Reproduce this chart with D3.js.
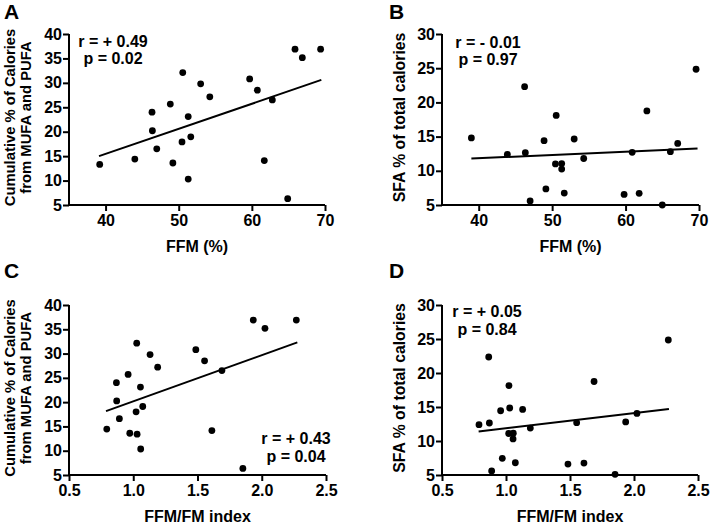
<!DOCTYPE html>
<html><head><meta charset="utf-8">
<script src="https://cdn.jsdelivr.net/npm/d3@7"></script>
<style>
html,body{margin:0;padding:0;background:#fff;}
svg text{font-family:"Liberation Sans",Arial,sans-serif;font-weight:bold;fill:#000;}
</style></head>
<body><svg id="c" width="711" height="524"></svg>
<script>
// ---------- DATA ----------
const ffmA   = [39.2,44.0,46.35,46.4,47.0,48.85,49.2,50.55,50.45,51.3,51.3,51.65,53.0,54.25,59.7,60.75,61.7,62.8,64.9,65.9,66.9,69.4];
const mufaA  = [13.3,14.4,24.0,20.2,16.5,25.65,13.6,32.1,17.9,23.1,10.3,18.95,29.8,27.15,30.8,28.5,14.1,26.5,6.3,36.9,35.15,36.9];
const ffmB   = [39.0,43.9,46.25,46.35,47.0,48.9,49.15,50.55,50.45,51.3,51.3,51.65,53.0,54.3,59.8,60.9,61.85,62.9,65.0,66.1,67.1,69.6];
const sfaB   = [14.8,12.4,22.3,12.65,5.6,14.4,7.35,18.1,11.0,11.05,10.25,6.75,14.65,11.8,6.55,12.7,6.7,18.75,5.0,12.8,14.0,24.85];
const idxC   = [0.794,0.869,0.871,0.892,0.96,0.973,1.027,1.022,1.03,1.056,1.058,1.074,1.131,1.19,1.487,1.555,1.612,1.69,1.853,1.934,2.025,2.269];
const mufaC  = [14.45,24.0,20.25,16.6,25.7,13.6,32.15,18.0,13.4,23.1,10.35,19.1,29.8,27.2,30.8,28.5,14.15,26.5,6.35,36.9,35.2,36.9];
const idxD   = [0.789,0.865,0.87,0.888,0.958,0.971,1.023,1.029,1.021,1.057,1.055,1.073,1.13,1.19,1.484,1.552,1.609,1.688,1.852,1.935,2.023,2.268];
const sfaD   = [12.4,22.35,12.65,5.6,14.45,7.45,18.15,14.85,11.1,11.15,10.3,6.8,14.65,11.9,6.6,12.7,6.75,18.75,5.1,12.8,14.05,24.85];
// fitted regression lines (endpoints)
const fitAx = [39.1,69.5],  fitAy = [15.0,30.6];
const fitBx = [39.0,69.8],  fitBy = [11.8,13.25];
const fitCx = [0.788,2.277], fitCy = [18.15,32.3];
const fitDx = [0.786,2.273], fitDy = [11.4,14.7];
// ticks
const ticksFFM = [40,50,60,70];
const ticksIdx = [0.5,1.0,1.5,2.0,2.5];
const ticksMufa = [5,10,15,20,25,30,35,40];
const ticksSfa = [5,10,15,20,25,30];
// labels
const panelLetters = ["A","B","C","D"];
const statsR = ["r = + 0.49","r = - 0.01","r = + 0.43","r = + 0.05"];
const statsP = ["p = 0.02","p = 0.97","p = 0.04","p = 0.84"];
const xTitles = ["FFM (%)","FFM (%)","FFM/FM index","FFM/FM index"];
const yTitles = [["Cumulative % of Calories","from MUFA and PUFA"],["SFA % of total calories"],["Cumulative % of Calories","from MUFA and PUFA"],["SFA % of total calories"]];

// ---------- LAYOUT ----------
const svg = d3.select("#c");
const panels = [
  {xs:ffmA, ys:mufaA, fx:fitAx, fy:fitAy, xd:[35,70], yd:[5,40], xt:ticksFFM, yt:ticksMufa, xf:d3.format("d"),
   xr:[69,325], yr:[205,34], lx:4, ly:19, st:{x:113, y:46.5}, ytx:[15,31], ysz:14.8},
  {xs:ffmB, ys:sfaB, fx:fitBx, fy:fitBy, xd:[35,70], yd:[5,30], xt:ticksFFM, yt:ticksSfa, xf:d3.format("d"),
   xr:[442,699], yr:[205,34], lx:389, ly:19, st:{x:488, y:47.5}, ytx:[405], ysz:15.8},
  {xs:idxC, ys:mufaC, fx:fitCx, fy:fitCy, xd:[0.5,2.5], yd:[5,40], xt:ticksIdx, yt:ticksMufa, xf:d3.format(".1f"),
   xr:[69,326], yr:[475,305], lx:4, ly:278, st:{x:296, y:444}, ytx:[15,31], ysz:14.8},
  {xs:idxD, ys:sfaD, fx:fitDx, fy:fitDy, xd:[0.5,2.5], yd:[5,30], xt:ticksIdx, yt:ticksSfa, xf:d3.format(".1f"),
   xr:[442,698], yr:[475,305], lx:389, ly:278, st:{x:487, y:317}, ytx:[405], ysz:15.8}
];

panels.forEach((p,i)=>{
  const x = d3.scaleLinear().domain(p.xd).range(p.xr);
  const y = d3.scaleLinear().domain(p.yd).range(p.yr);
  const g = svg.append("g");

  // axes
  const ax = g.append("g").attr("transform",`translate(0,${p.yr[0]})`)
    .call(d3.axisBottom(x).tickValues(p.xt).tickFormat(p.xf).tickSize(6).tickSizeOuter(0).tickPadding(4));
  const ay = g.append("g").attr("transform",`translate(${p.xr[0]},0)`)
    .call(d3.axisLeft(y).tickValues(p.yt).tickFormat(d3.format("d")).tickSize(6).tickSizeOuter(0).tickPadding(1));
  [ax,ay].forEach(a=>{
    a.select(".domain").attr("stroke","#000").attr("stroke-width",2);
    a.selectAll(".tick line").attr("stroke","#000").attr("stroke-width",2);
    a.selectAll(".tick text").style("font-size","16px").attr("fill","#000");
  });
  ax.select(".domain").attr("d",`M${p.xr[0]-1},0H${p.xr[1]}`);
  ay.select(".domain").attr("d",`M0,${p.yr[0]+1}V${p.yr[1]}`);

  // points
  g.selectAll("circle").data(p.xs.map((v,k)=>[v,p.ys[k]])).join("circle")
    .attr("cx",d=>x(d[0])).attr("cy",d=>y(d[1])).attr("r",3.4).attr("fill","#000");

  // fit line
  g.append("line")
    .attr("x1",x(p.fx[0])).attr("y1",y(p.fy[0]))
    .attr("x2",x(p.fx[1])).attr("y2",y(p.fy[1]))
    .attr("stroke","#000").attr("stroke-width",2);

  // stats
  g.append("text").attr("x",p.st.x).attr("y",p.st.y).attr("text-anchor","middle").style("font-size","16px").text(statsR[i]);
  g.append("text").attr("x",p.st.x).attr("y",p.st.y+17.5).attr("text-anchor","middle").style("font-size","16px").text(statsP[i]);

  // panel letter
  g.append("text").attr("x",p.lx).attr("y",p.ly).style("font-size","21px").text(panelLetters[i]);

  // x title
  g.append("text").attr("x",(p.xr[0]+p.xr[1])/2).attr("y",p.yr[0]+47).attr("text-anchor","middle")
    .style("font-size","16px").text(xTitles[i]);

  // y title
  const cy = (p.yr[0]+p.yr[1])/2 - 2;
  yTitles[i].forEach((t,k)=>{
    g.append("text").attr("transform",`translate(${p.ytx[k]},${cy}) rotate(-90)`)
      .attr("text-anchor","middle").style("font-size",p.ysz+"px").text(t);
  });
});
</script></body></html>
